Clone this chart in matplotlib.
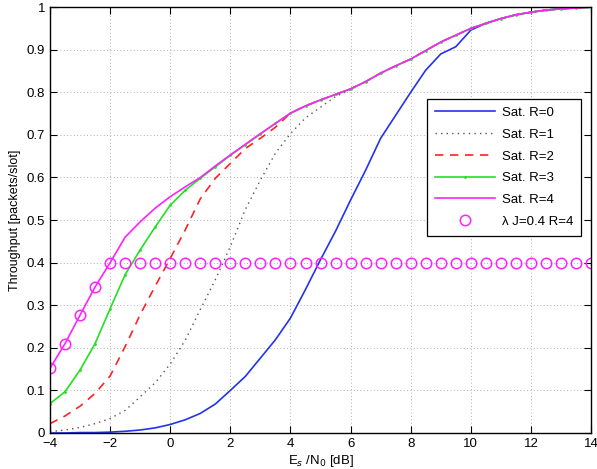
import matplotlib
matplotlib.use('Agg')
import matplotlib.pyplot as plt

# Es/N0 grid [dB], 0.5 dB steps
snr = [-4, -3.5, -3, -2.5, -2, -1.5, -1, -0.5, 0, 0.5, 1, 1.5, 2, 2.5, 3, 3.5,
       4, 4.5, 5, 5.5, 6, 6.5, 7, 7.5, 8, 8.5, 9, 9.5, 10, 10.5, 11, 11.5,
       12, 12.5, 13, 13.5, 14]

# common high-SNR part (x = 4 ... 14)
tail = [0.751, 0.768, 0.782, 0.795, 0.808, 0.825, 0.845, 0.862, 0.878, 0.898,
        0.918, 0.934, 0.950, 0.962, 0.973, 0.982, 0.988, 0.993, 0.996, 0.998, 1.0]

sat_r0 = [0.0, 0.0, 0.001, 0.001, 0.002, 0.004, 0.007, 0.012, 0.020, 0.031,
          0.046, 0.068, 0.100, 0.133, 0.176, 0.219, 0.270, 0.337, 0.407, 0.474,
          0.547, 0.617, 0.692, 0.746, 0.800, 0.852, 0.890, 0.907, 0.946, 0.962,
          0.973, 0.982, 0.988, 0.993, 0.996, 0.998, 1.0]
sat_r1 = [0.003, 0.007, 0.013, 0.022, 0.034, 0.053, 0.085, 0.118, 0.162, 0.218,
          0.290, 0.360, 0.438, 0.525, 0.594, 0.657, 0.703, 0.740, 0.765, 0.790,
          0.806] + tail[5:]
sat_r2 = [0.022, 0.040, 0.063, 0.093, 0.134, 0.203, 0.278, 0.345, 0.410, 0.477,
          0.550, 0.598, 0.633, 0.668, 0.692, 0.718] + tail
sat_r3 = [0.069, 0.097, 0.148, 0.210, 0.292, 0.372, 0.430, 0.484, 0.535, 0.570,
          0.598, 0.625, 0.652, 0.677, 0.702, 0.727] + tail
sat_r4 = [0.152, 0.210, 0.277, 0.343, 0.400, 0.460, 0.496, 0.528, 0.555, 0.578,
          0.600, 0.627, 0.653, 0.678, 0.703, 0.727] + tail
lam_r4 = [0.152, 0.210, 0.277, 0.343] + [0.4] * 33

plt.rcParams['font.family'] = ['Liberation Sans', 'DejaVu Sans']

fig = plt.figure(figsize=(5.97, 4.69), dpi=100)
ax = fig.add_axes([0.0838, 0.0768, 0.9062, 0.908])

ax.plot(snr, sat_r0, color='#2233ee', lw=1.2, label='Sat. R=0')
ax.plot(snr, sat_r1, color='#555555', lw=1.0, ls=(0, (1, 3)), label='Sat. R=1')
ax.plot(snr, sat_r2, color='#ff2222', lw=1.2, ls=(0, (5, 4)), label='Sat. R=2')
ax.plot(snr, sat_r3, color='#22e022', lw=1.2, marker='.', ms=2, label='Sat. R=3')
ax.plot(snr, sat_r4, color='#ff22ff', lw=1.2, label='Sat. R=4')
ax.plot(snr, lam_r4, ls='none', marker='o', ms=7.5, mfc='none', mec='#ff22ff',
        mew=1.1, label='λ J=0.4 R=4')

ax.set_xlim(-4, 14)
ax.set_ylim(0, 1)
ax.set_xticks(range(-4, 15, 2))
ax.set_xticklabels(['\u22124', '\u22122', '0', '2', '4', '6', '8', '10', '12', '14'])
ax.set_yticks([i / 10 for i in range(11)])
ax.set_yticklabels(['0', '0.1', '0.2', '0.3', '0.4', '0.5', '0.6', '0.7', '0.8', '0.9', '1'])
ax.tick_params(direction='in', top=True, right=True, labelsize=9.5, length=5)
ax.grid(True, ls=(0, (1, 3)), color='#999999', lw=0.6)
for s in ax.spines.values():
    s.set_linewidth(1.0)

ax.set_xlabel('E$_s$ /N$_0$ [dB]', fontsize=9.5, labelpad=2)
ax.set_ylabel('Throughput [packets/slot]', fontsize=9, labelpad=4)

leg = ax.legend(loc='upper right', bbox_to_anchor=(0.994, 0.80), fontsize=9.5,
                fancybox=False, edgecolor='black', framealpha=1,
                handlelength=4.6, handletextpad=0.5, borderpad=0.6,
                labelspacing=0.72)
leg.get_frame().set_linewidth(0.9)

fig.savefig('out.png', dpi=100)
